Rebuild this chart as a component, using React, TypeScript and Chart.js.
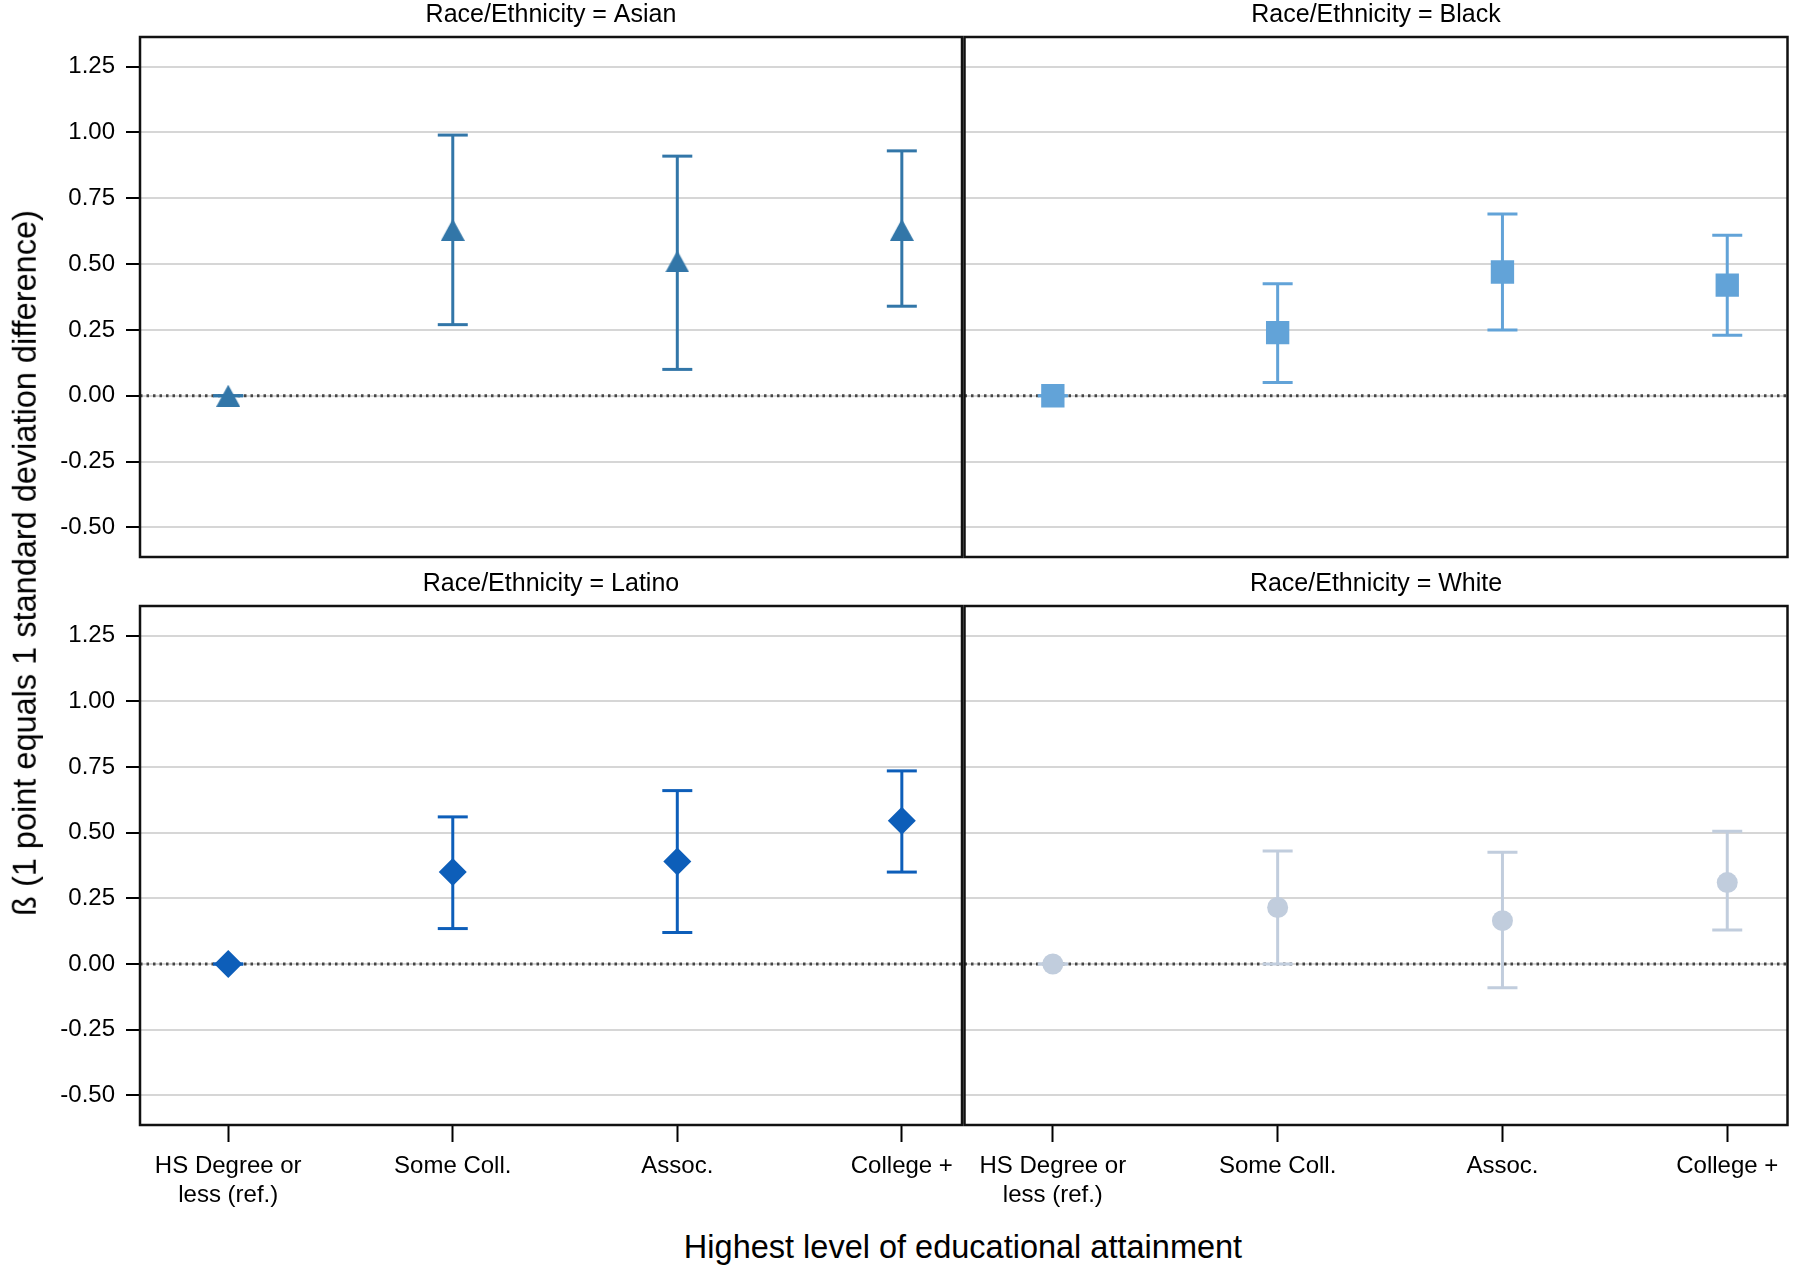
import React, { useEffect, useRef } from 'react';
import { Chart, registerables } from 'chart.js';

Chart.register(...registerables);

// ---------------- data ----------------
const categories = ['HS Degree or less (ref.)', 'Some Coll.', 'Assoc.', 'College +'];
const xTickLabels: (string | string[])[] = [['HS Degree or', 'less (ref.)'], 'Some Coll.', 'Assoc.', 'College +'];
const yTickValues = [-0.5, -0.25, 0, 0.25, 0.5, 0.75, 1.0, 1.25];

const panelTitles = [
  'Race/Ethnicity = Asian',
  'Race/Ethnicity = Black',
  'Race/Ethnicity = Latino',
  'Race/Ethnicity = White',
];

const asianEst = [0, 0.63, 0.51, 0.63];
const asianLo = [0, 0.27, 0.1, 0.34];
const asianHi = [0, 0.99, 0.91, 0.93];

const blackEst = [0, 0.24, 0.47, 0.42];
const blackLo = [0, 0.05, 0.25, 0.23];
const blackHi = [0, 0.425, 0.69, 0.61];

const latinoEst = [0, 0.35, 0.39, 0.545];
const latinoLo = [0, 0.135, 0.12, 0.35];
const latinoHi = [0, 0.56, 0.66, 0.735];

const whiteEst = [0, 0.215, 0.165, 0.31];
const whiteLo = [0, 0.0, -0.09, 0.13];
const whiteHi = [0, 0.43, 0.425, 0.505];

const yAxisTitle = 'ß (1 point equals 1 standard deviation difference)';
const xAxisTitle = 'Highest level of educational attainment';

// ---------------- styling / layout ----------------
const Y_MIN = -0.6125;
const Y_MAX = 1.3625;
const X_MIN = -0.393;
const X_MAX = 3.268;

const FONT = "'Liberation Sans', Arial, Helvetica, sans-serif";

Chart.defaults.font.family = FONT;
Chart.defaults.color = '#000';

function makeTriangle(color: string, w: number, h: number): HTMLCanvasElement {
  const c = document.createElement('canvas');
  c.width = w;
  c.height = h;
  const ctx = c.getContext('2d')!;
  ctx.fillStyle = color;
  ctx.beginPath();
  ctx.moveTo(w / 2, 0);
  ctx.lineTo(w, h);
  ctx.lineTo(0, h);
  ctx.closePath();
  ctx.fill();
  return c;
}

const framePlugin = {
  id: 'frame',
  afterDraw(chart: any) {
    const { ctx, chartArea } = chart;
    const { left, top, right, bottom } = chartArea;
    ctx.save();
    ctx.strokeStyle = '#111';
    ctx.lineWidth = 2.5;
    ctx.strokeRect(left, top, right - left, bottom - top);
    ctx.restore();
  },
};

type PanelProps = {
  title: string;
  est: number[];
  lo: number[];
  hi: number[];
  color: string;
  marker: 'triangle' | 'rect' | 'rectRot' | 'circle';
  radius: number;
  showY: boolean;
  showX: boolean;
  box: { left: number; top: number; w: number; h: number; pad: { left: number; top: number; right: number; bottom: number } };
};

function Panel(p: PanelProps) {
  const ref = useRef<HTMLCanvasElement | null>(null);
  useEffect(() => {
    if (!ref.current) return;
    const datasets: any[] = [];
    datasets.push({
      data: [
        { x: X_MIN, y: 0 },
        { x: X_MAX, y: 0 },
      ],
      showLine: true,
      borderColor: '#454545',
      borderWidth: 3,
      borderDash: [2.5, 4],
      pointRadius: 0,
      order: 3,
    });
    p.est.forEach((_, i) => {
      datasets.push({
        data: [
          { x: i, y: p.lo[i] },
          { x: i, y: p.hi[i] },
        ],
        showLine: true,
        borderColor: p.color,
        borderWidth: 3,
        pointStyle: 'line',
        pointRadius: 15,
        pointHoverRadius: 15,
        pointBorderColor: p.color,
        pointBorderWidth: 3,
        order: 2,
      });
    });
    const style: any = p.marker === 'triangle' ? makeTriangle(p.color, 24, 22) : p.marker;
    datasets.push({
      data: p.est.map((v, i) => ({ x: i, y: v })),
      pointStyle: style,
      pointRadius: p.radius,
      pointHoverRadius: p.radius,
      backgroundColor: p.color,
      borderColor: p.color,
      borderWidth: 0,
      order: 1,
    });

    const chart = new Chart(ref.current, {
      type: 'scatter',
      data: { datasets },
      plugins: [framePlugin],
      options: {
        responsive: false,
        animation: false,
        devicePixelRatio: 1,
        layout: { padding: p.box.pad, autoPadding: false },
        plugins: {
          legend: { display: false },
          tooltip: { enabled: false },
          title: {
            display: true,
            text: p.title,
            fullSize: false,
            font: { size: 25, weight: 'normal', family: FONT },
            color: '#000',
            padding: { top: 0, bottom: 7 },
          },
        },
        scales: {
          x: {
            type: 'linear',
            min: X_MIN,
            max: X_MAX,
            display: p.showX,
            afterBuildTicks: (s: any) => {
              s.ticks = categories.map((_, i) => ({ value: i }));
            },
            ticks: {
              callback: (v: any) => xTickLabels[Math.round(Number(v))] as any,
              font: { size: 24, family: FONT },
              color: '#000',
              padding: 10,
              maxRotation: 0,
              minRotation: 0,
              autoSkip: false,
            },
            grid: {
              drawOnChartArea: false,
              drawTicks: true,
              tickLength: 17,
              tickColor: '#000',
              tickWidth: 2,
            },
            border: { display: false },
            afterFit: (s: any) => {
              s.height = p.showX ? 100 : 0;
              s.paddingLeft = 0;
              s.paddingRight = 0;
            },
          },
          y: {
            type: 'linear',
            min: Y_MIN,
            max: Y_MAX,
            afterBuildTicks: (s: any) => {
              s.ticks = yTickValues.map((v) => ({ value: v }));
            },
            ticks: {
              display: p.showY,
              callback: (v: any) => Number(v).toFixed(2),
              font: { size: 24, family: FONT },
              color: '#000',
              padding: 11,
            },
            grid: {
              color: '#d6d6d6',
              lineWidth: 2,
              drawTicks: p.showY,
              tickLength: 14,
              tickColor: '#000',
              tickWidth: 2,
            },
            border: { display: false },
            afterFit: (s: any) => {
              s.width = p.showY ? 140 : 0;
              s.paddingTop = 0;
              s.paddingBottom = 0;
            },
          },
        },
      } as any,
    });
    return () => chart.destroy();
  }, []);
  return (
    <canvas
      ref={ref}
      width={p.box.w}
      height={p.box.h}
      style={{ position: 'absolute', left: p.box.left, top: p.box.top, width: p.box.w, height: p.box.h }}
    />
  );
}

export default function App() {
  return (
    <div style={{ position: 'absolute', left: 0, top: 0, width: 1800, height: 1275, background: '#fff', overflow: 'hidden' }}>
      <Panel
        title={panelTitles[0]}
        est={asianEst}
        lo={asianLo}
        hi={asianHi}
        color="#3276a8"
        marker="triangle"
        radius={12}
        showY={true}
        showX={false}
        box={{ left: 0, top: 0, w: 966, h: 560, pad: { left: 0, top: 0, right: 4, bottom: 3 } }}
      />
      <Panel
        title={panelTitles[1]}
        est={blackEst}
        lo={blackLo}
        hi={blackHi}
        color="#62a3d8"
        marker="rect"
        radius={16.5}
        showY={false}
        showX={false}
        box={{ left: 960, top: 0, w: 840, h: 560, pad: { left: 4.5, top: 0, right: 12.5, bottom: 3 } }}
      />
      <Panel
        title={panelTitles[2]}
        est={latinoEst}
        lo={latinoLo}
        hi={latinoHi}
        color="#0d5eb9"
        marker="rectRot"
        radius={14}
        showY={true}
        showX={true}
        box={{ left: 0, top: 569, w: 966, h: 656, pad: { left: 0, top: 0, right: 4, bottom: 0 } }}
      />
      <Panel
        title={panelTitles[3]}
        est={whiteEst}
        lo={whiteLo}
        hi={whiteHi}
        color="#c1cddd"
        marker="circle"
        radius={10.5}
        showY={false}
        showX={true}
        box={{ left: 960, top: 569, w: 840, h: 656, pad: { left: 4.5, top: 0, right: 12.5, bottom: 0 } }}
      />
      <div
        style={{
          position: 'absolute',
          left: 25,
          top: 563,
          transform: 'translate(-50%, -50%) rotate(-90deg)',
          whiteSpace: 'nowrap',
          fontFamily: FONT,
          fontSize: 32.5,
          color: '#000',
          lineHeight: 1,
        }}
      >
        {yAxisTitle}
      </div>
      <div
        style={{
          position: 'absolute',
          left: 963,
          top: 1247,
          transform: 'translate(-50%, -50%)',
          whiteSpace: 'nowrap',
          fontFamily: FONT,
          fontSize: 32.5,
          color: '#000',
          lineHeight: 1,
        }}
      >
        {xAxisTitle}
      </div>
    </div>
  );
}
